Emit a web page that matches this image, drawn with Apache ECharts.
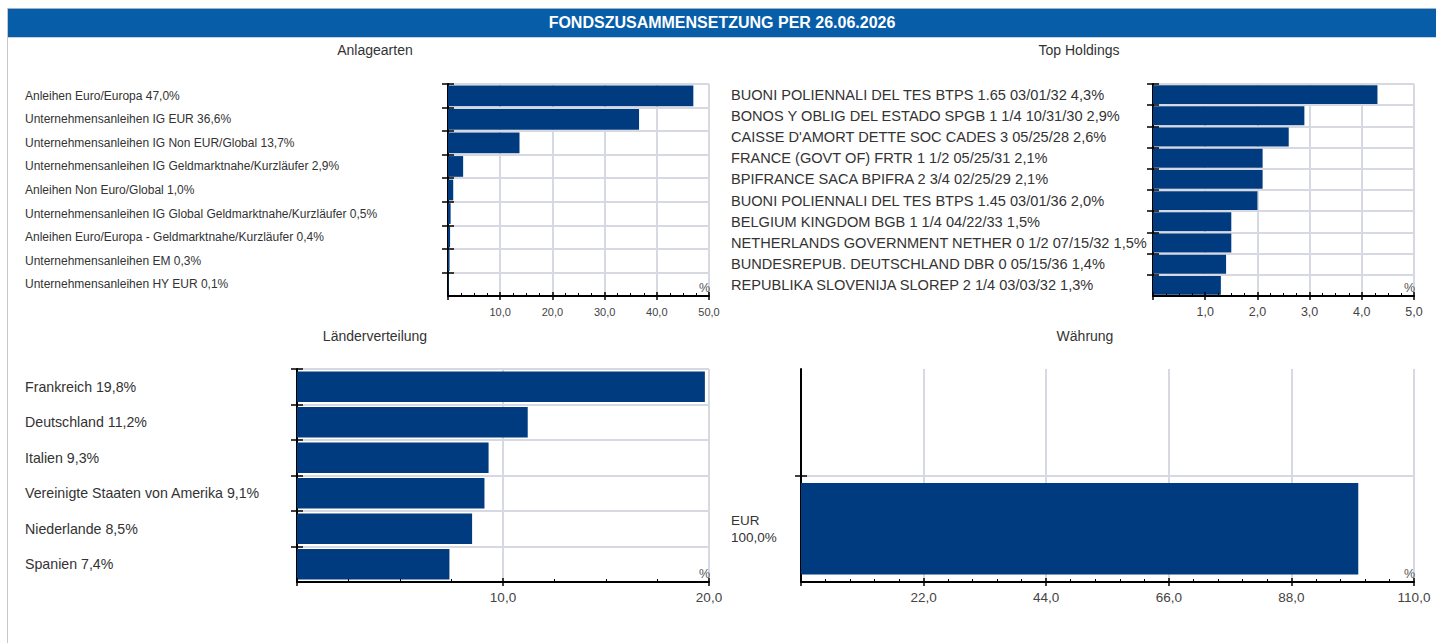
<!DOCTYPE html>
<html>
<head>
<meta charset="utf-8">
<title>Fondszusammensetzung</title>
<script src="https://cdn.jsdelivr.net/npm/echarts@6/dist/echarts.min.js"></script>
<style>
  html, body { margin: 0; padding: 0; background: #fff; width: 1436px; height: 643px; overflow: hidden;
    font-family: "Liberation Sans", Arial, Helvetica, sans-serif; }
  #frame { position: absolute; left: 7px; top: 8px; width: 1429px; height: 635px; border-left: 1px solid #c9c9c9; }
  #chart { position: absolute; left: 0; top: 0; width: 1436px; height: 643px; }
  #head { position: absolute; left: 8px; top: 8px; width: 1428px; height: 28px; background: #075da8;
    border-top: 1px solid #9fb2c6; border-bottom: 1px solid #c9d1db; color: #fff; font-weight: bold;
    font-size: 16px; line-height: 28px; text-align: center; }
  .ptitle { position: absolute; font-size: 14px; line-height: 16px; color: #333; transform: translateX(-50%); white-space: nowrap; }
</style>
</head>
<body>
<div id="frame"></div>
<div id="chart"></div>
<div id="head">FONDSZUSAMMENSETZUNG PER 26.06.2026</div>
<div class="ptitle" style="left:375px; top:42px;">Anlagearten</div>
<div class="ptitle" style="left:1079px; top:42px;">Top Holdings</div>
<div class="ptitle" style="left:375px; top:328px;">Länderverteilung</div>
<div class="ptitle" style="left:1085px; top:328px;">Währung</div>
<script>
// ---- data -------------------------------------------------------------
const assetClasses = [
  'Anleihen Euro/Europa',
  'Unternehmensanleihen IG EUR',
  'Unternehmensanleihen IG Non EUR/Global',
  'Unternehmensanleihen IG Geldmarktnahe/Kurzläufer',
  'Anleihen Non Euro/Global',
  'Unternehmensanleihen IG Global Geldmarktnahe/Kurzläufer',
  'Anleihen Euro/Europa - Geldmarktnahe/Kurzläufer',
  'Unternehmensanleihen EM',
  'Unternehmensanleihen HY EUR'
];
const assetShares = [47.0, 36.6, 13.7, 2.9, 1.0, 0.5, 0.4, 0.3, 0.1];

const holdings = [
  'BUONI POLIENNALI DEL TES BTPS 1.65 03/01/32',
  'BONOS Y OBLIG DEL ESTADO SPGB 1 1/4 10/31/30',
  "CAISSE D'AMORT DETTE SOC CADES 3 05/25/28",
  'FRANCE (GOVT OF) FRTR 1 1/2 05/25/31',
  'BPIFRANCE SACA BPIFRA 2 3/4 02/25/29',
  'BUONI POLIENNALI DEL TES BTPS 1.45 03/01/36',
  'BELGIUM KINGDOM BGB 1 1/4 04/22/33',
  'NETHERLANDS GOVERNMENT NETHER 0 1/2 07/15/32',
  'BUNDESREPUB. DEUTSCHLAND DBR 0 05/15/36',
  'REPUBLIKA SLOVENIJA SLOREP 2 1/4 03/03/32'
];
const holdingShares = [4.3, 2.9, 2.6, 2.1, 2.1, 2.0, 1.5, 1.5, 1.4, 1.3];

const countries = ['Frankreich', 'Deutschland', 'Italien', 'Vereinigte Staaten von Amerika', 'Niederlande', 'Spanien'];
const countryShares = [19.8, 11.2, 9.3, 9.1, 8.5, 7.4];

const currencies = ['EUR'];
const currencyShares = [100.0];

// value axes: [max, tick step, minor subdivisions]
const assetAxis = [50, 10, 4];
const holdingAxis = [5, 1, 4];
const countryAxis = [20, 10, 4];
const currencyAxis = [110, 22, 5];

// ---- styling ----------------------------------------------------------
const BAR = '#003b80';
const GRID_LINE = '#d6d9e1';
const INK = '#000';
const TEXT = '#333';
const TICK_TEXT = '#444';
const FONT = '"Liberation Sans", Arial, Helvetica, sans-serif';

const fmt = v => v.toFixed(1).replace('.', ',');
const withShare = (names, shares, sep) => names.map((n, i) => n + sep + fmt(shares[i]) + '%');

const panels = [
  { rect: { left: 448, top: 84, width: 261, height: 212 },
    rows: withShare(assetClasses, assetShares, ' '), values: assetShares, axis: assetAxis,
    labelLeft: 25, labelSize: 12, tickSize: 11, labelMargin: 10, gap: '12%' },
  { rect: { left: 1153, top: 84, width: 261, height: 212 },
    rows: withShare(holdings, holdingShares, ' '), values: holdingShares, axis: holdingAxis,
    labelLeft: 731, labelSize: 14.6, tickSize: 12.5, labelMargin: 9, gap: '11%' },
  { rect: { left: 297, top: 369, width: 412, height: 213 },
    rows: withShare(countries, countryShares, ' '), values: countryShares, axis: countryAxis,
    labelLeft: 25, labelSize: 14.2, tickSize: 13.5, labelMargin: 8, gap: '14%' },
  // the currency block keeps an empty row above its single bar
  { rect: { left: 801, top: 369, width: 613, height: 213 },
    rows: [''].concat(withShare(currencies, currencyShares, '\n')), values: ['-'].concat(currencyShares),
    axis: currencyAxis, labelLeft: 731, labelSize: 13.5, tickSize: 13.5, labelMargin: 8, gap: '14%',
    openTop: true }
];

const grid = [], xAxis = [], yAxis = [], series = [];

panels.forEach(p => {
  const [max, step, minor] = p.axis;
  const n = p.rows.length;
  const g = grid.length;
  // three stacked layers share one rectangle: main, grid lines, inner ticks
  for (let k = 0; k < 3; k++) grid.push(Object.assign({ containLabel: false }, p.rect));

  const boundaries = [];
  for (let i = 1; i <= (p.openTop ? n - 1 : n); i++) boundaries.push(i);

  const valueBase = { type: 'value', min: 0, max: max, interval: step };

  // main layer: axis lines, labels, outer ticks on x
  xAxis.push(Object.assign({}, valueBase, {
    gridIndex: g, position: 'bottom', z: 1,
    axisLine: { show: true, lineStyle: { color: INK, width: 2 } },
    axisTick: { show: true, length: 4, lineStyle: { color: INK, width: 1.5 } },
    splitLine: { show: false },
    axisLabel: { formatter: v => (v === 0 ? '' : fmt(v)), fontSize: p.tickSize, color: TICK_TEXT,
      fontFamily: FONT, margin: p.labelMargin },
    name: '%', nameLocation: 'end', nameGap: 0,
    nameTextStyle: { align: 'right', verticalAlign: 'bottom', fontSize: 12.5, color: '#555',
      fontFamily: FONT, padding: [0, -1, 2, 0] }
  }));
  yAxis.push({
    gridIndex: g, type: 'category', inverse: true, data: p.rows, z: 1,
    axisLine: { show: true, lineStyle: { color: INK, width: 2 } },
    axisTick: { show: false }, splitLine: { show: false },
    axisLabel: { align: 'left', margin: p.rect.left - p.labelLeft, fontSize: p.labelSize,
      color: TEXT, fontFamily: FONT, lineHeight: Math.round(p.labelSize * 1.25), interval: 0 }
  });

  // grid-line layer with outward ticks on y
  xAxis.push(Object.assign({}, valueBase, {
    gridIndex: g + 1, position: 'bottom', z: 0,
    axisLine: { show: false }, axisTick: { show: false }, axisLabel: { show: false },
    splitLine: { show: true, lineStyle: { color: GRID_LINE, width: 2 } }
  }));
  yAxis.push({
    gridIndex: g + 1, type: 'value', min: 0, max: n, interval: 1, z: 0,
    axisLine: { show: false }, axisLabel: { show: false },
    axisTick: { show: true, length: 6, customValues: boundaries, lineStyle: { color: INK, width: 1.5 } },
    splitLine: { show: true, lineStyle: { color: GRID_LINE, width: 2 } }
  });

  // inner tick layer drawn above the bars
  xAxis.push(Object.assign({}, valueBase, {
    gridIndex: g + 2, position: 'bottom', z: 3,
    axisLine: { show: false }, axisLabel: { show: false }, splitLine: { show: false },
    axisTick: { show: true, inside: true, length: 4, lineStyle: { color: INK, width: 1.5 } },
    minorTick: { show: true, splitNumber: minor, length: 3, lineStyle: { color: INK, width: 1 } }
  }));
  yAxis.push({
    gridIndex: g + 2, type: 'value', min: 0, max: n, interval: 1, z: 3,
    axisLine: { show: false }, axisLabel: { show: false }, splitLine: { show: false },
    axisTick: { show: true, inside: true, length: 6, customValues: boundaries, lineStyle: { color: INK, width: 1.5 } }
  });

  series.push({
    type: 'bar', xAxisIndex: g, yAxisIndex: g, data: p.values, barCategoryGap: p.gap,
    itemStyle: { color: BAR }, z: 2, silent: true, animation: false
  });
});

const chart = echarts.init(document.getElementById('chart'), null, { renderer: 'svg' });
chart.setOption({
  animation: false,
  textStyle: { fontFamily: FONT },
  grid, xAxis, yAxis, series
});
</script>
</body>
</html>
